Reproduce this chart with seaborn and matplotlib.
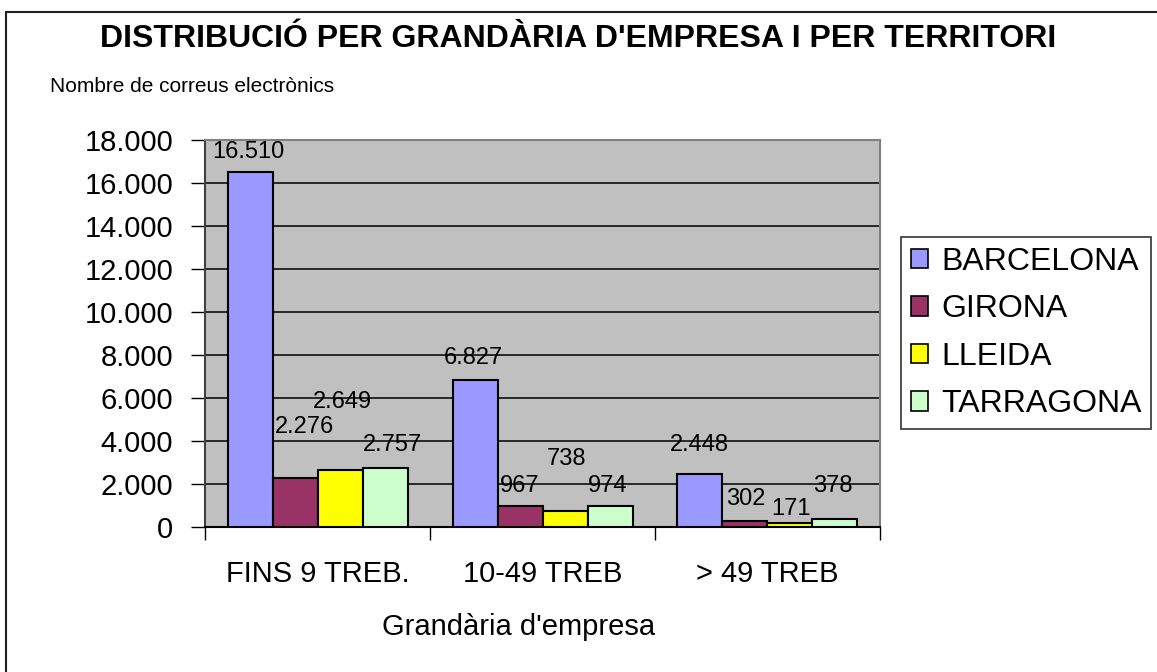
import matplotlib
matplotlib.use("Agg")
import matplotlib.pyplot as plt
import seaborn as sns
import pandas as pd
from matplotlib.patches import Patch
from matplotlib.lines import Line2D

# ---- data ----
categories = ["FINS 9 TREB.", "10-49 TREB", "> 49 TREB"]
territories = ["BARCELONA", "GIRONA", "LLEIDA", "TARRAGONA"]
barcelona = [16510, 6827, 2448]
girona = [2276, 967, 302]
lleida = [2649, 738, 171]
tarragona = [2757, 974, 378]
yticks = [0, 2000, 4000, 6000, 8000, 10000, 12000, 14000, 16000, 18000]

# ---- style ----
colors = ["#9999FF", "#993366", "#FFFF00", "#CCFFCC"]
# label offsets (pixels) relative to bar top centre, per territory, per category
label_dx = [[-2, -2, -1], [10, 0, 1], [2, 2, 1], [7, -2, -2]]
label_dy = [[20, 22, 29], [51, 20, 22], [68, 52, 14], [23, 20, 33]]

sns.set_theme(style="white")
plt.rcParams["font.family"] = ["Liberation Sans", "DejaVu Sans"]
for k in ["text.color", "axes.labelcolor", "xtick.color", "ytick.color"]:
    plt.rcParams[k] = "black"

rows = []
for terr, vals in zip(territories, [barcelona, girona, lleida, tarragona]):
    for cat, v in zip(categories, vals):
        rows.append({"cat": cat, "terr": terr, "val": v})
df = pd.DataFrame(rows)

W, H = 1157, 672
fig = plt.figure(figsize=(W / 100, H / 100), dpi=100)
ax = fig.add_axes([205 / W, 1 - 527 / H, 675 / W, 387 / H])
ax.set_facecolor("#C0C0C0")

sns.barplot(data=df, x="cat", y="val", hue="terr", order=categories,
            hue_order=territories, palette=colors, width=0.8,
            edgecolor="black", linewidth=1.5, saturation=1, ax=ax,
            legend=False, zorder=3)

ax.set_ylim(0, 18000)
ax.set_xlim(-0.5, 2.5)
ax.set_yticks(yticks)
ax.set_yticklabels([f"{t:,}".replace(",", ".") for t in yticks], fontsize=21)
ax.yaxis.grid(True, color="black", linewidth=1.1, zorder=0)
ax.set_axisbelow(True)
ax.tick_params(axis="y", which="major", direction="out", length=10, width=1,
               color="black", left=True, pad=13)
ax.set_xticks(range(len(categories)))
ax.set_xticklabels(categories, fontsize=21)
ax.tick_params(axis="x", which="major", length=0, pad=24)
ax.set_xticks([-0.5, 0.5, 1.5, 2.5], minor=True)
ax.tick_params(axis="x", which="minor", direction="out", length=9, width=1,
               color="black", bottom=True)
for side in ["top", "right"]:
    ax.spines[side].set_color("#808080")
    ax.spines[side].set_linewidth(1.5)
ax.spines["left"].set_color("#404040")
ax.spines["left"].set_linewidth(1.5)
ax.spines["bottom"].set_color("black")
ax.spines["bottom"].set_linewidth(1.5)

ax.set_ylabel("")
ax.set_xlabel("Grandària d'empresa", fontsize=21)
ax.xaxis.set_label_coords((519 - 205) / 675, (527 - 613) / 387)

# value labels
for ti, cont in enumerate(ax.containers):
    for ci, bar in enumerate(cont.patches):
        v = bar.get_height()
        ax.annotate(f"{int(v):,}".replace(",", "."),
                    xy=(bar.get_x() + bar.get_width() / 2, v),
                    xytext=(label_dx[ti][ci], label_dy[ti][ci]),
                    textcoords="offset pixels", ha="center", va="center",
                    fontsize=17, color="black", zorder=5, annotation_clip=False)

# title & subtitle
fig.text(578 / W, 1 - 39 / H, "DISTRIBUCIÓ PER GRANDÀRIA D'EMPRESA I PER TERRITORI",
         ha="center", va="center", fontsize=23, fontweight="bold")
fig.text(50 / W, 1 - 87 / H, "Nombre de correus electrònics",
         ha="left", va="center", fontsize=15)

# legend
handles = [Patch(facecolor=c, edgecolor="black", linewidth=1.2) for c in colors]
leg = fig.legend(handles, territories, loc="upper left",
                 bbox_to_anchor=(901 / W, 1 - 237 / H), fontsize=23,
                 frameon=True, fancybox=False, edgecolor="black",
                 handlelength=0.56, handleheight=0.56, handletextpad=0.4,
                 labelspacing=0.55, borderpad=0.3, borderaxespad=0)
leg.get_frame().set_linewidth(1.2)

# outer figure border (top and left visible)
fig.add_artist(Line2D([6 / W, 1.2], [1 - 11.5 / H, 1 - 11.5 / H],
                      transform=fig.transFigure, color="#202020", linewidth=1.5))
fig.add_artist(Line2D([6 / W, 6 / W], [-0.2, 1 - 11.5 / H],
                      transform=fig.transFigure, color="#202020", linewidth=1.5))

fig.savefig("out.png", dpi=100)
